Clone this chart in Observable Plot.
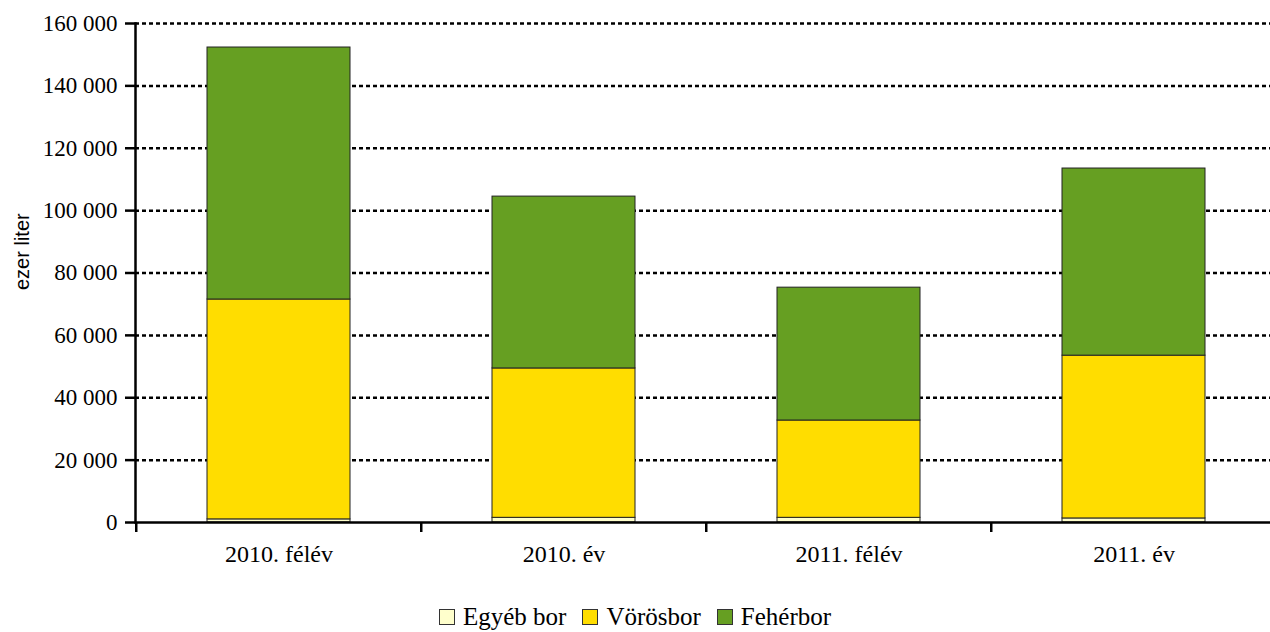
<!DOCTYPE html>
<html><head><meta charset="utf-8">
<script src="https://cdn.jsdelivr.net/npm/d3@7"></script>
<script src="https://cdn.jsdelivr.net/npm/@observablehq/plot@0.6"></script>
<style>
body{margin:0;background:#fff;overflow:hidden;width:1270px;height:632px;position:relative}
#chart{width:1270px;overflow:hidden}
#chart svg{display:block;max-width:none}
#legend{position:absolute;left:0;top:602px;width:1270px;height:30px;display:flex;justify-content:center;align-items:center;font-family:"Liberation Serif","Times New Roman",serif;font-size:25px;line-height:30px;color:#000}
#legend .item{display:flex;align-items:center;margin:0 8px}
#legend .sw{width:16px;height:16px;border:1px solid #333;margin-right:8px;box-sizing:border-box;flex:none}
</style></head><body>
<div id="chart"></div>
<div id="legend"></div>
<script>
const categories = ["2010. félév", "2010. év", "2011. félév", "2011. év"];
const seriesNames = ["Egyéb bor", "Vörösbor", "Fehérbor"];
const seriesColors = ["#FFFFCC", "#FFDD00", "#669F22"];
const egyebBor = [1000, 1500, 1500, 1300];
const vorosBor = [70500, 47900, 31200, 52200];
const feherBor = [80800, 55100, 42600, 60000];
const yTicks = [0, 20000, 40000, 60000, 80000, 100000, 120000, 140000, 160000];

const seriesValues = [egyebBor, vorosBor, feherBor];
const data = [];
categories.forEach((c, i) => {
  seriesNames.forEach((s, j) => data.push({category: c, series: s, value: seriesValues[j][i]}));
});

const W = 1277, mL = 135, mR = 0;
const halfStep = (W - mL - mR) / categories.length / 2;
const fmt = d => d3.format(",")(d).replace(/,/g, " ");

const plot = Plot.plot({
  width: W,
  height: 590,
  marginLeft: mL,
  marginRight: mR,
  marginTop: 23,
  marginBottom: 68,
  style: {fontFamily: "'Liberation Serif','Times New Roman',serif", fontSize: "22px", color: "#000", background: "#fff", maxWidth: "none"},
  x: {domain: categories, paddingInner: 0.5, paddingOuter: 0.25, axis: null},
  y: {domain: [0, 160000], axis: null},
  color: {domain: seriesNames, range: seriesColors},
  marks: [
    Plot.ruleY(yTicks.filter(d => d > 0), {stroke: "#000", strokeWidth: 2.5, strokeDasharray: "4,3"}),
    Plot.barY(data, {x: "category", y: "value", fill: "series", stroke: "#222", strokeWidth: 1}),
    Plot.ruleY([0], {stroke: "#000", strokeWidth: 2.5}),
    Plot.frame({anchor: "left", stroke: "#000", strokeWidth: 2.5}),
    Plot.axisY(yTicks, {tickSize: 10, tickPadding: 8, tickFormat: fmt, strokeWidth: 2.5, stroke: "#000", label: null, fontSize: 23}),
    Plot.axisX(categories, {tickSize: 10, tickFormat: () => "", strokeWidth: 2.5, stroke: "#000", dx: -halfStep, label: null}),
    Plot.axisX(categories, {tickSize: 0, tickPadding: 22, label: null, fontSize: 24}),
    Plot.text(["ezer liter"], {frameAnchor: "left", dx: -113, dy: 17, rotate: -90, fontFamily: "'Liberation Sans',Arial,sans-serif", fontSize: 20, fill: "#000"})
  ]
});
document.getElementById("chart").appendChild(plot);

const legend = document.getElementById("legend");
seriesNames.forEach((s, i) => {
  const item = document.createElement("div");
  item.className = "item";
  const sw = document.createElement("span");
  sw.className = "sw";
  sw.style.background = seriesColors[i];
  const t = document.createElement("span");
  t.textContent = s;
  item.appendChild(sw); item.appendChild(t);
  legend.appendChild(item);
});
</script>
</body></html>
